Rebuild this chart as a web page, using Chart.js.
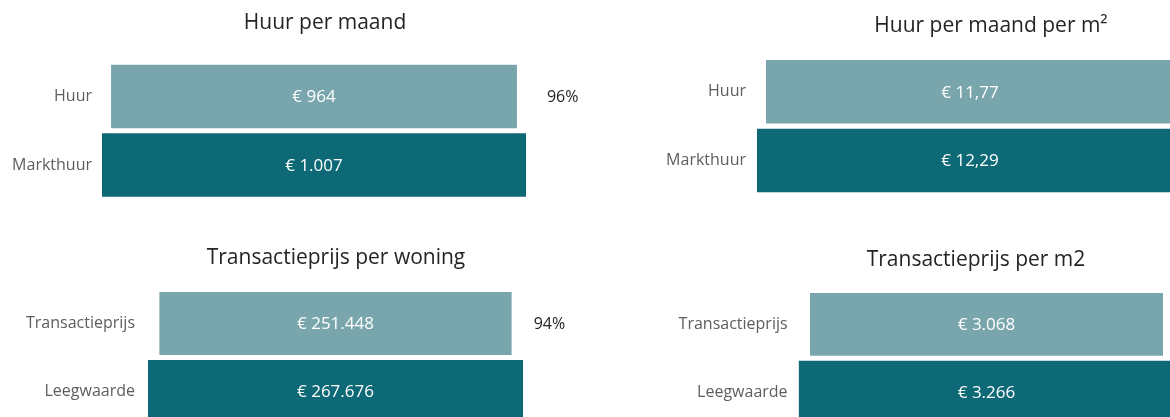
<!DOCTYPE html>
<html lang="nl">
<head>
<meta charset="utf-8">
<title>Huur en transactieprijzen</title>
<script src="https://cdn.jsdelivr.net/npm/chart.js@4.4.1/dist/chart.umd.min.js"></script>
<style>
  html, body { margin: 0; padding: 0; background: #ffffff; overflow: hidden; }
  #board { position: relative; width: 1170px; height: 417px; overflow: hidden; background: #ffffff; }
  #board canvas { position: absolute; display: block; }
</style>
</head>
<body>
<div id="board">
  <canvas id="c1"></canvas>
  <canvas id="c2"></canvas>
  <canvas id="c3"></canvas>
  <canvas id="c4"></canvas>
</div>
<script>
// ---- data ----
const titles = ['Huur per maand', 'Huur per maand per m\u00B2', 'Transactieprijs per woning', 'Transactieprijs per m2'];
const huurCategories = ['Huur', 'Markthuur'];
const prijsCategories = ['Transactieprijs', 'Leegwaarde'];
const huurPerMaand = [964, 1007];
const huurPerM2 = [11.77, 12.29];
const prijsPerWoning = [251448, 267676];
const prijsPerM2 = [3068, 3266];
const decimals = [0, 2, 0, 0];

// ---- look ----
const FONT = "'Open Sans', 'Noto Sans', sans-serif";
const LIGHT = '#79a6ac';
const DARK = '#0e6976';
const TITLE_SIZE = 21;
const TITLE_LINE = TITLE_SIZE * 1.2;

// panel frames in page px: canvas box, left edge of the plot, where the widest bar ends,
// plot top/bottom, title centre line, gap before the category labels and before the share
const frames = [
  { left: 0,   top: 0,   width: 650, height: 200, areaLeft: 102,   barEnd: 526,    areaTop: 62.25, areaBottom: 199.25, titleY: 23,  labelGap: 10, pctGap: 30 },
  { left: 650, top: 0,   width: 682, height: 200, areaLeft: 757,   barEnd: 1183,   areaTop: 57.4,  areaBottom: 194.9,  titleY: 26,  labelGap: 11, pctGap: 30 },
  { left: 0,   top: 210, width: 672, height: 220, areaLeft: 148,   barEnd: 523,    areaTop: 289.5, areaBottom: 425.5,  titleY: 258, labelGap: 13, pctGap: 22 },
  { left: 650, top: 210, width: 652, height: 220, areaLeft: 798.6, barEnd: 1174.4, areaTop: 290.5, areaBottom: 426,    titleY: 260, labelGap: 11, pctGap: 22 }
];

const nl = d => new Intl.NumberFormat('nl-NL', { minimumFractionDigits: d, maximumFractionDigits: d });

// value labels inside each bar, plus the share of the first bar next to it
const funnelLabels = {
  id: 'funnelLabels',
  afterDatasetsDraw(chart, args, opts) {
    const ctx = chart.ctx;
    const meta = chart.getDatasetMeta(0);
    const ds = chart.data.datasets[0];
    const fmt = nl(opts.decimals);
    ctx.save();
    ctx.textAlign = 'center';
    ctx.textBaseline = 'middle';
    ctx.fillStyle = '#ffffff';
    ctx.font = '17px ' + FONT;
    meta.data.forEach((el, i) => {
      const { x, base, y } = el.getProps(['x', 'base', 'y'], true);
      ctx.fillText('\u20AC ' + fmt.format(ds.values[i]), (x + base) / 2, y + 1);
    });
    const share = Math.round(ds.values[0] / ds.values[1] * 100) + '%';
    const first = meta.data[0].getProps(['x', 'y'], true);
    ctx.textAlign = 'left';
    ctx.fillStyle = '#252423';
    ctx.font = '16px ' + FONT;
    ctx.fillText(share, first.x + opts.pctGap, first.y + 1);
    ctx.restore();
  }
};

function funnel(idx, categories, values) {
  const f = frames[idx];
  const canvas = document.getElementById('c' + (idx + 1));
  canvas.width = f.width;
  canvas.height = f.height;
  canvas.style.left = f.left + 'px';
  canvas.style.top = f.top + 'px';
  canvas.style.width = f.width + 'px';
  canvas.style.height = f.height + 'px';

  // bars are centred on zero; the axis runs on past the widest bar to the canvas edge
  const maxVal = Math.max(...values);
  const unit = (f.barEnd - f.areaLeft) / maxVal;
  const xMin = -maxVal / 2;
  const xMax = xMin + (f.left + f.width - f.areaLeft) / unit;
  const yAxisWidth = f.areaLeft - f.left;

  new Chart(canvas, {
    type: 'bar',
    data: {
      labels: categories,
      datasets: [{
        data: values.map(v => [-v / 2, v / 2]),
        values: values,
        backgroundColor: [LIGHT, DARK],
        borderWidth: 0,
        barPercentage: 0.925,
        categoryPercentage: 1
      }]
    },
    options: {
      indexAxis: 'y',
      responsive: false,
      animation: false,
      layout: {
        autoPadding: false,
        padding: { left: 0, right: 0, top: 0, bottom: f.top + f.height - f.areaBottom }
      },
      scales: {
        x: { display: false, min: xMin, max: xMax },
        y: {
          grid: { display: false, drawTicks: false },
          border: { display: false },
          ticks: { color: '#605e5c', font: { family: FONT, size: 16 }, padding: f.labelGap },
          afterFit(scale) {
            // fixed label column; labels sit mid-band so no extra room above or below
            scale.width = yAxisWidth;
            scale.paddingTop = 0;
            scale.paddingBottom = 0;
          }
        }
      },
      plugins: {
        legend: { display: false },
        tooltip: { enabled: false },
        title: {
          display: true,
          text: titles[idx],
          color: '#252423',
          font: { family: FONT, size: TITLE_SIZE, weight: 'normal', lineHeight: 1.2 },
          padding: {
            top: f.titleY - f.top - TITLE_LINE / 2,
            bottom: f.areaTop - f.titleY - TITLE_LINE / 2
          }
        },
        funnelLabels: { decimals: decimals[idx], pctGap: f.pctGap }
      }
    },
    plugins: [funnelLabels]
  });
}

funnel(0, huurCategories, huurPerMaand);
funnel(1, huurCategories, huurPerM2);
funnel(2, prijsCategories, prijsPerWoning);
funnel(3, prijsCategories, prijsPerM2);
</script>
</body>
</html>
